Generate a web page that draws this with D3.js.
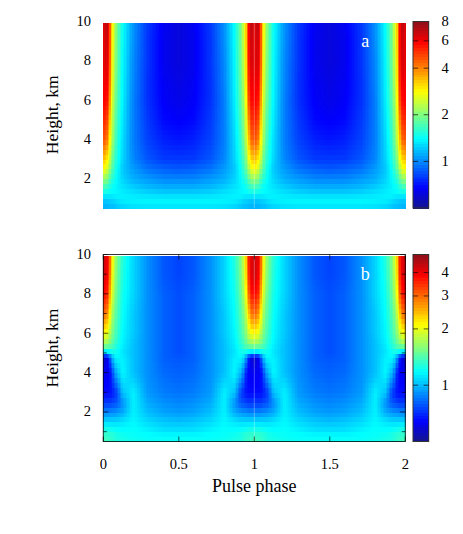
<!DOCTYPE html>
<html><head><meta charset="utf-8">
<script src="https://cdnjs.cloudflare.com/ajax/libs/d3/7.8.5/d3.min.js"></script>
<style>html,body{margin:0;padding:0;background:#fff}svg{display:block}text{font-family:"Liberation Serif",serif;fill:#000}</style>
</head><body><svg id="c" width="463" height="534"></svg>
<script>
// distance in phase from the nearest pulse (the profile is read for one half period)
const phaseOffsets = [0,.01,.025,.04,.055,.07,.09,.13,.2,.29,.4,.5];
const heightsA = [10,9,8,7,6,5,4,3,2.5,2,1.5,1.25,1,.75,.5];
const valuesA = [
[6.06,6.96,6.96,5.42,3.29,2.50,1.95,1.44,1.03,.80,.66,.62],
[6.06,6.6,6.6,5.42,3.2,2.45,1.92,1.42,1.02,.79,.65,.62],
[6.06,6.6,6.4,5.28,3.11,2.37,1.90,1.40,1.0,.79,.65,.62],
[5.88,6.2,6.06,4.9,3.0,2.3,1.85,1.38,.99,.78,.66,.63],
[5.88,5.88,5.57,4.39,2.79,2.18,1.79,1.36,.973,.78,.67,.64],
[5.28,5.28,4.86,3.67,2.57,2.06,1.70,1.32,.973,.80,.69,.67],
[4.59,4.59,4.14,3.11,2.37,1.95,1.61,1.28,.973,.82,.74,.717],
[3.29,3.29,2.95,2.57,2.0,1.74,1.52,1.25,1.0,.871,.801,.801],
[2.79,2.79,2.5,2.18,1.85,1.65,1.44,1.21,1.06,.946,.895,.871],
[2.11,2.11,2.0,1.79,1.61,1.52,1.40,1.25,1.12,1.06,1.0,1.0],
[1.61,1.61,1.56,1.52,1.44,1.40,1.36,1.32,1.25,1.18,1.15,1.15],
[1.44,1.44,1.44,1.40,1.40,1.40,1.40,1.36,1.32,1.28,1.25,1.25],
[1.21,1.21,1.21,1.25,1.25,1.28,1.32,1.36,1.36,1.36,1.36,1.36],
[1.18,1.18,1.18,1.18,1.21,1.21,1.25,1.32,1.36,1.40,1.40,1.40],
[1.12,1.12,1.12,1.15,1.15,1.15,1.18,1.21,1.25,1.25,1.25,1.25]];
const heightsB = [10,9,8,7,6,5.5,5.2,5,4.75,4,3,2.5,2,1.5,1,.75,.5];
const valuesB = [
[4.25,4.25,4.06,3.46,2.39,1.9,1.58,1.29,1.07,.91,.792,.757],
[4.25,4.25,3.97,3.3,2.29,1.82,1.55,1.26,1.07,.91,.792,.757],
[3.79,3.79,3.54,2.88,2.08,1.73,1.48,1.23,1.07,.91,.811,.775],
[3.01,3.01,2.75,2.29,1.82,1.58,1.41,1.2,1.04,.91,.811,.775],
[2.08,2.08,1.99,1.82,1.62,1.48,1.35,1.17,1.04,.91,.811,.775],
[1.66,1.66,1.62,1.55,1.48,1.38,1.29,1.15,1.02,.91,.811,.775],
[1.32,1.32,1.32,1.32,1.32,1.29,1.23,1.12,1.02,.91,.811,.775],
[.91,.91,.931,.998,1.09,1.17,1.2,1.12,1.02,.91,.811,.775],
[.587,.587,.615,.723,.91,1.07,1.17,1.15,1.02,.91,.811,.792],
[.629,.629,.629,.644,.706,.849,.998,1.17,1.02,.91,.83,.811],
[.659,.659,.659,.659,.674,.706,.757,1.02,1.15,.931,.869,.849],
[.74,.74,.74,.74,.757,.775,.792,.91,1.15,.975,.91,.889],
[.889,.889,.889,.889,.91,.91,.931,.975,1.15,1.02,.953,.931],
[1.09,1.09,1.09,1.09,1.09,1.09,1.09,1.12,1.17,1.09,1.04,1.02],
[1.29,1.29,1.29,1.29,1.26,1.26,1.23,1.2,1.2,1.17,1.12,1.12],
[1.35,1.35,1.35,1.32,1.32,1.29,1.26,1.23,1.2,1.2,1.2,1.2],
[1.38,1.38,1.35,1.35,1.32,1.29,1.26,1.26,1.23,1.2,1.2,1.2]];
const xTicks = [0,.5,1,1.5,2];
const xTickLabels = ["0","0.5","1","1.5","2"];
const yTicksMajor = [2,4,6,8,10];
const yTicksMinor = [1,3,5,7,9];
const colorTicksA = [1,2,4,6,8];
const colorTicksB = [1,2,3,4];
const colorDomainA = [.5,8];
const colorDomainB = [.5,5];
const jetStops = [0,.11,.375,.625,.89,1];
const jetColors = ["#14148a","#0000ff","#00ffff","#ffff00","#ff0000","#8c0f19"];

const svg = d3.select("#c");
const jet = d3.scaleLinear().domain(jetStops).range(jetColors).interpolate(d3.interpolateRgb);
const xScale = d3.scaleLinear().domain([0,2]).range([103.3,405.3]);

function sample(table, heights, h, d){
  const desc = heights.map(v=>-v);
  let r = d3.bisectRight(desc,-h); r = Math.max(1,Math.min(heights.length-1,r));
  let c = d3.bisectRight(phaseOffsets,d); c = Math.max(1,Math.min(phaseOffsets.length-1,c));
  const fy = (heights[r-1]-h)/(heights[r-1]-heights[r]);
  const fx = (d-phaseOffsets[c-1])/(phaseOffsets[c]-phaseOffsets[c-1]);
  const L = Math.log;
  const a = L(table[r-1][c-1])*(1-fx)+L(table[r-1][c])*fx;
  const b = L(table[r][c-1])*(1-fx)+L(table[r][c])*fx;
  return Math.exp(a*(1-fy)+b*fy);
}

function panel(id, top, bottom, table, heights, domain, cTicks, letter, frame, topRow, withX){
  const yScale = d3.scaleLinear().domain([.5,10]).range([bottom,top]);
  const cPos = d3.scaleLog().domain(domain).range([0,1]);
  const cY = d3.scaleLog().domain(domain).range([bottom,top]);
  const g = svg.append("g").attr("id",id);
  const cells = g.append("g").attr("shape-rendering","crispEdges");
  const rowsH = d3.range(.5,topRow,.25);
  const cols = d3.range(0,2,.01);
  rowsH.forEach(h0=>{
    const h1 = Math.min(h0+.25,topRow), hc = h0+.125;
    cols.forEach(p0=>{
      const pc = p0+.005;
      const d = Math.min(Math.abs(pc),Math.abs(pc-1),Math.abs(pc-2));
      cells.append("rect")
        .attr("x",xScale(p0)).attr("width",xScale(p0+.01)-xScale(p0)+.6)
        .attr("y",yScale(h1)).attr("height",yScale(h0)-yScale(h1)+.6)
        .attr("fill",jet(cPos(sample(table,heights,hc,d))));
    });
  });
  g.append("line").attr("x1",xScale(1)).attr("x2",xScale(1)).attr("y1",yScale(.5)).attr("y2",yScale(topRow))
    .attr("stroke","#fff").attr("stroke-opacity",.3).attr("stroke-width",1);

  if(frame){
    g.append("rect").attr("x",xScale(0)).attr("y",top).attr("width",xScale(2)-xScale(0)).attr("height",bottom-top)
      .attr("fill","none").attr("stroke","#000").attr("stroke-opacity",.8).attr("stroke-width",1);
    const tick = (x1,x2,y1,y2)=>g.append("line").attr("x1",x1).attr("x2",x2).attr("y1",y1).attr("y2",y2)
      .attr("stroke","#000").attr("stroke-opacity",.65).attr("stroke-width",1);
    yTicksMajor.concat(yTicksMinor).forEach(v=>{
      const len = yTicksMajor.includes(v)?5:3.5;
      tick(xScale(0),xScale(0)+len,yScale(v),yScale(v));
      tick(xScale(2),xScale(2)-len,yScale(v),yScale(v));
    });
    xTicks.forEach(v=>{
      tick(xScale(v),xScale(v),bottom,bottom-5);
      tick(xScale(v),xScale(v),top,top+5);
    });
  }
  yTicksMajor.forEach(v=>{
    g.append("text").attr("x",91).attr("y",yScale(v)+4.5).attr("text-anchor","end").attr("font-size",14.5).text(v);
  });
  g.append("text").attr("transform",`translate(58,${(top+bottom)/2}) rotate(-90)`)
    .attr("text-anchor","middle").attr("font-size",17.5).text("Height, km");
  g.append("text").attr("x",xScale(1.735)).attr("y",top+25).attr("text-anchor","middle")
    .attr("font-size",18).style("fill","#fff").text(letter);
  if(withX){
    xTicks.forEach((v,i)=>{
      g.append("text").attr("x",xScale(v)).attr("y",bottom+27).attr("text-anchor","middle").attr("font-size",14.5).text(xTickLabels[i]);
    });
    g.append("text").attr("x",xScale(1)).attr("y",bottom+50).attr("text-anchor","middle").attr("font-size",18).text("Pulse phase");
  }
  const barX0 = 413, barX1 = 428.7;
  const bar = g.append("g").attr("shape-rendering","crispEdges");
  const steps = d3.range(0,1,1/64);
  steps.forEach(t=>{
    const v0 = domain[0]*Math.pow(domain[1]/domain[0],t);
    const v1 = domain[0]*Math.pow(domain[1]/domain[0],t+1/64);
    bar.append("rect").attr("x",barX0).attr("width",barX1-barX0)
      .attr("y",cY(v1)).attr("height",cY(v0)-cY(v1)+.6).attr("fill",jet(t+1/128));
  });
  g.append("rect").attr("x",barX0).attr("y",top).attr("width",barX1-barX0).attr("height",bottom-top)
    .attr("fill","none").attr("stroke","#333").attr("stroke-width",1);
  cTicks.forEach(v=>{
    if(v<domain[1]){
      [[barX0,barX0+5],[barX1,barX1-5]].forEach(p=>{
        g.append("line").attr("x1",p[0]).attr("x2",p[1]).attr("y1",cY(v)).attr("y2",cY(v))
          .attr("stroke","#000").attr("stroke-opacity",.65).attr("stroke-width",1);
      });
    }
    g.append("text").attr("x",445).attr("y",cY(v)+4.5).attr("text-anchor","middle").attr("font-size",14.5).text(v);
  });
}
panel("a",21.5,208,valuesA,heightsA,colorDomainA,colorTicksA,"a",false,9.93,false);
panel("b",254.5,441.5,valuesB,heightsB,colorDomainB,colorTicksB,"b",true,9.93,true);
</script></body></html>
